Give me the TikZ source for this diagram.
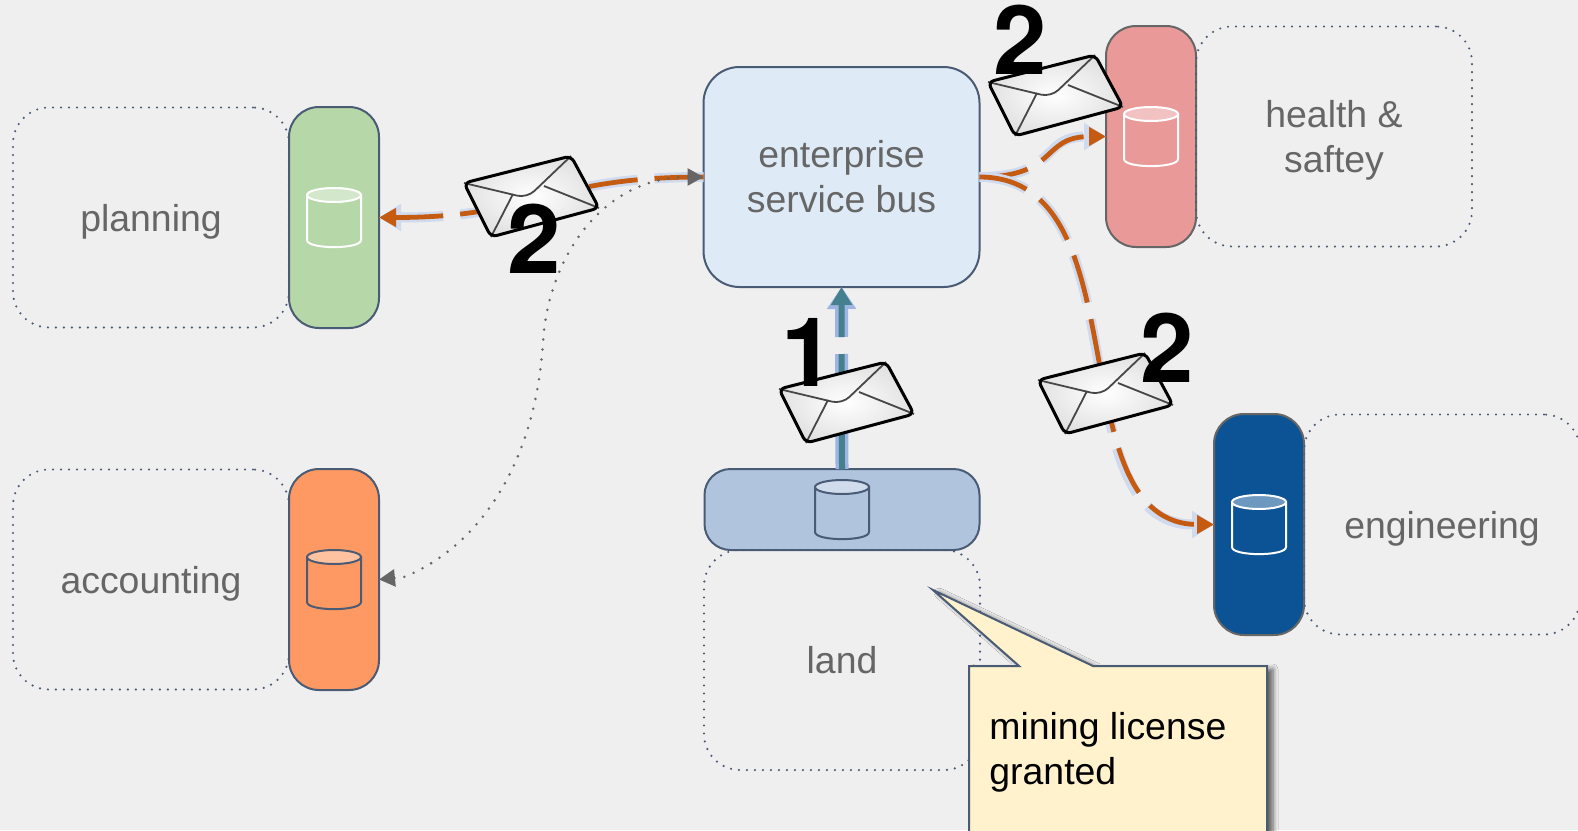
\documentclass[tikz,border=0pt]{standalone}
\usepackage{fontspec}
\setmainfont{Liberation Sans}
\newfontfamily\numfamily{TeX Gyre Heros}
\usetikzlibrary{positioning,arrows.meta,shapes.geometric,shadows.blur}

\definecolor{bgcol}{HTML}{EFEFEF}
\definecolor{edgecol}{HTML}{4A5B75}
\definecolor{greycol}{HTML}{666666}
\definecolor{buscol}{HTML}{DEEAF6}
\definecolor{flowcol}{HTML}{C55A11}
\definecolor{flowglow}{HTML}{CFDAEE}
\definecolor{landflow}{HTML}{45808F}
\definecolor{landglow}{HTML}{9DB5E0}
\definecolor{notecol}{HTML}{FFF2CC}
\definecolor{planningcol}{HTML}{B6D7A8}
\definecolor{accountingcol}{HTML}{FF9963}
\definecolor{healthcol}{HTML}{EA9999}
\definecolor{engineeringcol}{HTML}{0B5394}
\definecolor{landcol}{HTML}{B0C4DE}

\tikzset{basic/.style={draw=edgecol,line width=1pt,inner sep=0pt,outer sep=0pt,rounded corners=15pt}}
\tikzset{pill/.style={basic,fill=#1,minimum width=45pt,minimum height=110.5pt}}
\tikzset{landbar/.style={basic,fill=#1,minimum width=137.5pt,minimum height=40.5pt,rounded corners=13pt}}
\tikzset{dept/.style={draw=edgecol,line width=1.2pt,line cap=round,dash pattern=on 0pt off 4pt,rounded corners=18pt,
	inner sep=0pt,outer sep=0pt,minimum width=138pt,minimum height=110pt,align=center,text=greycol,font=\deptfont,text depth=0pt}}
\tikzset{flow/.style={line width=2.4pt,draw=flowcol,dash pattern=on 24.5pt off 8.5pt,-{Triangle[length=8.5pt,width=9pt]},
	preaction={draw=flowglow,line width=5pt,dash pattern=on 24.5pt off 8.5pt,-{Triangle[length=11pt,width=13pt]}}}}
\tikzset{landflowline/.style={line width=3pt,draw=landflow,dash pattern=on 24.5pt off 8.5pt,-{Triangle[length=9pt,width=10pt]},
	preaction={draw=landglow,line width=6.5pt,dash pattern=on 24.5pt off 8.5pt,-{Triangle[length=11pt,width=14pt]}}}}
\tikzset{link/.style={draw=greycol,line width=1.4pt,line cap=round,dash pattern=on 0pt off 5pt,
	{Triangle[length=8pt,width=8.5pt,fill=greycol]}-{Triangle[length=8pt,width=8.5pt,fill=greycol]}}}
\tikzset{num/.style={font=\numfont,text=black,inner sep=0pt}}
\tikzset{envelope/.pic={
	\begin{scope}
		\clip[rounded corners=3pt] (-67,-13) -- (40,-40) -- (68,12) -- (-40,41) -- cycle;
		\shade[inner color=white,outer color=black!24] (0,0) ellipse (140 and 84);
	\end{scope}
	\draw[line width=.9pt,draw=black!72] (-18,-2) -- (-40,41);
	\draw[line width=.9pt,draw=black!72] (13,-10) -- (68,12);
	\draw[line width=.9pt,draw=black!72,rounded corners=5pt] (-67,-13) -- (-4,2) -- (40,-40);
	\draw[line width=1.5pt,rounded corners=3pt] (-67,-13) -- (40,-40) -- (68,12) -- (-40,41) -- cycle;
}}
\tikzset{pics/store/.style 2 args={code={
	\draw[draw=#1,line width=1pt,fill=#2] (-27,-22.5) -- (-27,22.5) .. controls (-27,32) and (27,32) .. (27,22.5) -- (27,-22.5) -- cycle;
	\draw[draw=#1,line width=1pt,fill=#2!60!white] (0,-22.5) ellipse (27 and 7);
}}}

\newcommand{\deptfont}{\fontsize{18.7}{22.5}\selectfont}
\newcommand{\numfont}{\fontsize{48}{48}\numfamily\selectfont\bfseries}

\begin{document}
\begin{tikzpicture}[x=0.5pt,y=-0.5pt]
	\useasboundingbox (0,0) rectangle (1578,830);
	\fill[bgcol] (0,0) rectangle (1578,830);

	% departments
	\node[pill=planningcol] (planningdb) at (334,217.5) {};
	\node[dept,left=0pt of planningdb] (planning) {planning};
	\node[pill=accountingcol] (accountingdb) at (334,579.5) {};
	\node[dept,left=0pt of accountingdb] (accounting) {accounting};
	\node[pill=healthcol,draw=greycol] (healthdb) at (1151,136.5) {};
	\node[dept,right=0pt of healthdb] (health) {health \&\\saftey};
	\node[pill=engineeringcol,draw=greycol] (engineeringdb) at (1259,524.5) {};
	\node[dept,right=0pt of engineeringdb] (engineering) {engineering};
	\node[landbar=landcol] (landdb) at (842,509.5) {};
	\node[dept,below=0pt of landdb] (land) {land};

	% bus
	\node[basic,fill=buscol,minimum width=138pt,minimum height=110pt,rounded corners=18pt,align=center,text=greycol,font=\deptfont] (bus) at (841.5,177) {enterprise\\service bus};

	% stores
	\pic at (planningdb) {store={white}{planningcol}};
	\pic at (accountingdb) {store={edgecol}{accountingcol}};
	\pic at (healthdb) {store={white}{healthcol}};
	\pic at (engineeringdb) {store={white}{engineeringcol}};
	\pic at (landdb) {store={edgecol}{landcol}};

	% messages
	\path[draw,landflowline] (landdb.north) -- (bus.south);
	\path[draw,flow] (bus.west) .. controls +(-160,0) and +(160,0) .. (planningdb.east);
	\path[draw,flow] (bus.east) .. controls +(80,0) and +(-66,0) .. (healthdb.west);
	\path[draw,flow] (bus.east) .. controls +(165,0) and +(-159,0) .. (engineeringdb.west);
	\coordinate (bend) at (543,342);
	\coordinate (accountingin) at (404,577);
	\path[draw,link] (bus.west) .. controls +(-103,0) and +(5,-82) .. (bend) .. controls +(-8,128) and +(70,-28) .. (accountingin) -- (accountingdb.east);

	\pic at (531,196) {envelope};
	\pic at (846,402) {envelope};
	\pic at (1055,95) {envelope};
	\pic at (1105,393) {envelope};

	\node[num] (numland) at (808,352) {1};
	\node[num] (numplanning) at (534,239) {2};
	\node[num] (numhealth) at (1020,40) {2};
	\node[num] (numengineering) at (1167,348) {2};

	% note
	\draw[draw=edgecol,line width=1pt,fill=notecol,blur shadow={shadow xshift=3pt,shadow yshift=-1.5pt,shadow blur radius=2.5pt,shadow blur steps=6,shadow opacity=60}]
		(969,860) -- (969,666) -- (1019,666) -- (933,590) -- (1093,666) -- (1267,666) -- (1267,860) -- cycle;
	\node[anchor=west,align=left,font=\deptfont,text=black,inner sep=0pt] (note) at (989,752) {mining license\\granted};
\end{tikzpicture}
\end{document}
